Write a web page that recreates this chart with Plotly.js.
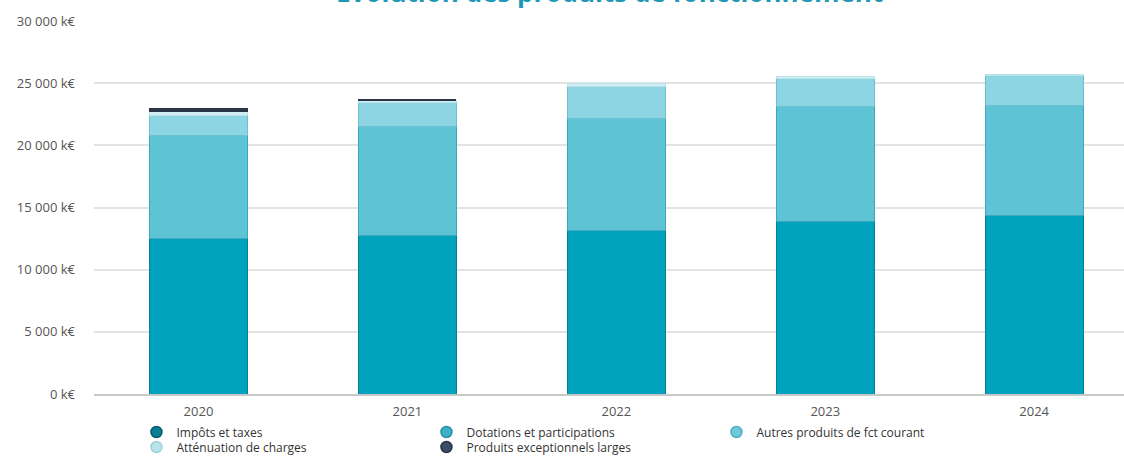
<!DOCTYPE html>
<html>
<head>
<meta charset="utf-8">
<script src="https://cdn.plot.ly/plotly-3.0.1.min.js"></script>
<style>html,body{margin:0;padding:0;background:#fff;}#chart{width:1124px;height:476px;}</style>
</head>
<body>
<div id="chart"></div>
<script>
const years = ['2020', '2021', '2022', '2023', '2024'];
const impots = [12540, 12780, 13130, 13850, 14390];
const dotations = [8280, 8710, 9030, 9250, 8790];
const autres = [1610, 1980, 2540, 2280, 2440];
const attenuation = [280, 150, 270, 180, 110];
const exceptionnels = [260, 120, 0, 0, 0];
const yTickVals = [0, 5000, 10000, 15000, 20000, 25000, 30000];
const yTickText = ['0 k€', '5 000 k€', '10 000 k€', '15 000 k€', '20 000 k€', '25 000 k€', '30 000 k€'];
const titleText = 'Évolution des produits de fonctionnement';

const series = [
  {name: 'Impôts et taxes', y: impots, fill: '#00a3be', edge: '#0c7c92', leg: '#0a7f98', legEdge: '#075a6b', lw: 1},
  {name: 'Dotations et participations', y: dotations, fill: '#5ec3d5', edge: '#3ea7bb', leg: '#3cb1ca', legEdge: '#2a8ea3', lw: 1},
  {name: 'Autres produits de fct courant', y: autres, fill: '#8dd5e2', edge: '#6dc0cf', leg: '#6ccad9', legEdge: '#4fb0c2', lw: 1},
  {name: 'Atténuation de charges', y: attenuation, fill: '#d2eef3', edge: '#b9e2ea', leg: '#b9e3eb', legEdge: '#9fd2dc', lw: 1},
  {name: 'Produits exceptionnels larges', y: exceptionnels, fill: '#2a3548', edge: '#2a3548', leg: '#3d4c68', legEdge: '#26314a', lw: 0}
];

const traces = [];
series.forEach((s, i) => {
  traces.push({
    type: 'bar', x: years, y: s.y, name: s.name, legendgroup: 'g' + i, showlegend: false,
    width: 0.47,
    marker: {color: s.fill, line: {color: s.edge, width: s.lw}},
    hoverinfo: 'x+y+name'
  });
});
series.forEach((s, i) => {
  traces.push({
    type: 'scatter', mode: 'markers', x: [null], y: [null], name: s.name, legendgroup: 'g' + i,
    legend: i < 3 ? 'legend' : 'legend2',
    marker: {symbol: 'circle', size: 11, color: s.leg, line: {color: s.legEdge, width: 1.5}},
    hoverinfo: 'skip'
  });
});

const legendBase = {
  orientation: 'h', xref: 'container', yref: 'container',
  x: 0.1214, xanchor: 'left', yanchor: 'middle',
  entrywidth: 245, entrywidthmode: 'pixels',
  font: {size: 12, color: '#333'}, traceorder: 'normal',
  itemclick: false, itemdoubleclick: false, bgcolor: 'rgba(0,0,0,0)'
};

const layout = {
  width: 1124, height: 476,
  margin: {l: 94, r: 0, t: 21, b: 82},
  paper_bgcolor: '#ffffff', plot_bgcolor: '#ffffff',
  barmode: 'stack',
  font: {family: '"Open Sans", "Noto Sans", sans-serif', color: '#555'},
  xaxis: {
    type: 'category', range: [-0.5, 4.43],
    showline: true, linecolor: '#c8c8c8', linewidth: 1.5,
    ticks: '', showgrid: false, zeroline: false,
    tickfont: {size: 13, color: '#555'}, ticklabelstandoff: 5
  },
  yaxis: {
    range: [0, 30000], tickvals: yTickVals, ticktext: yTickText,
    showgrid: true, gridcolor: '#e3e3e3', gridwidth: 1.5, zeroline: false,
    showline: false, ticks: '', tickfont: {size: 13, color: '#555'},
    ticklabelstandoff: 18
  },
  showlegend: true,
  legend: Object.assign({}, legendBase, {y: 1 - 432 / 476}),
  legend2: Object.assign({}, legendBase, {y: 1 - 447 / 476}),
  annotations: [{
    text: '<b>' + titleText + '</b>', xref: 'paper', yref: 'paper', x: 0.5, y: 1,
    xanchor: 'center', yanchor: 'middle', yshift: 29, showarrow: false,
    font: {size: 26, color: '#1f98b5'}
  }]
};

Plotly.newPlot('chart', traces, layout, {displayModeBar: false});
</script>
</body>
</html>
